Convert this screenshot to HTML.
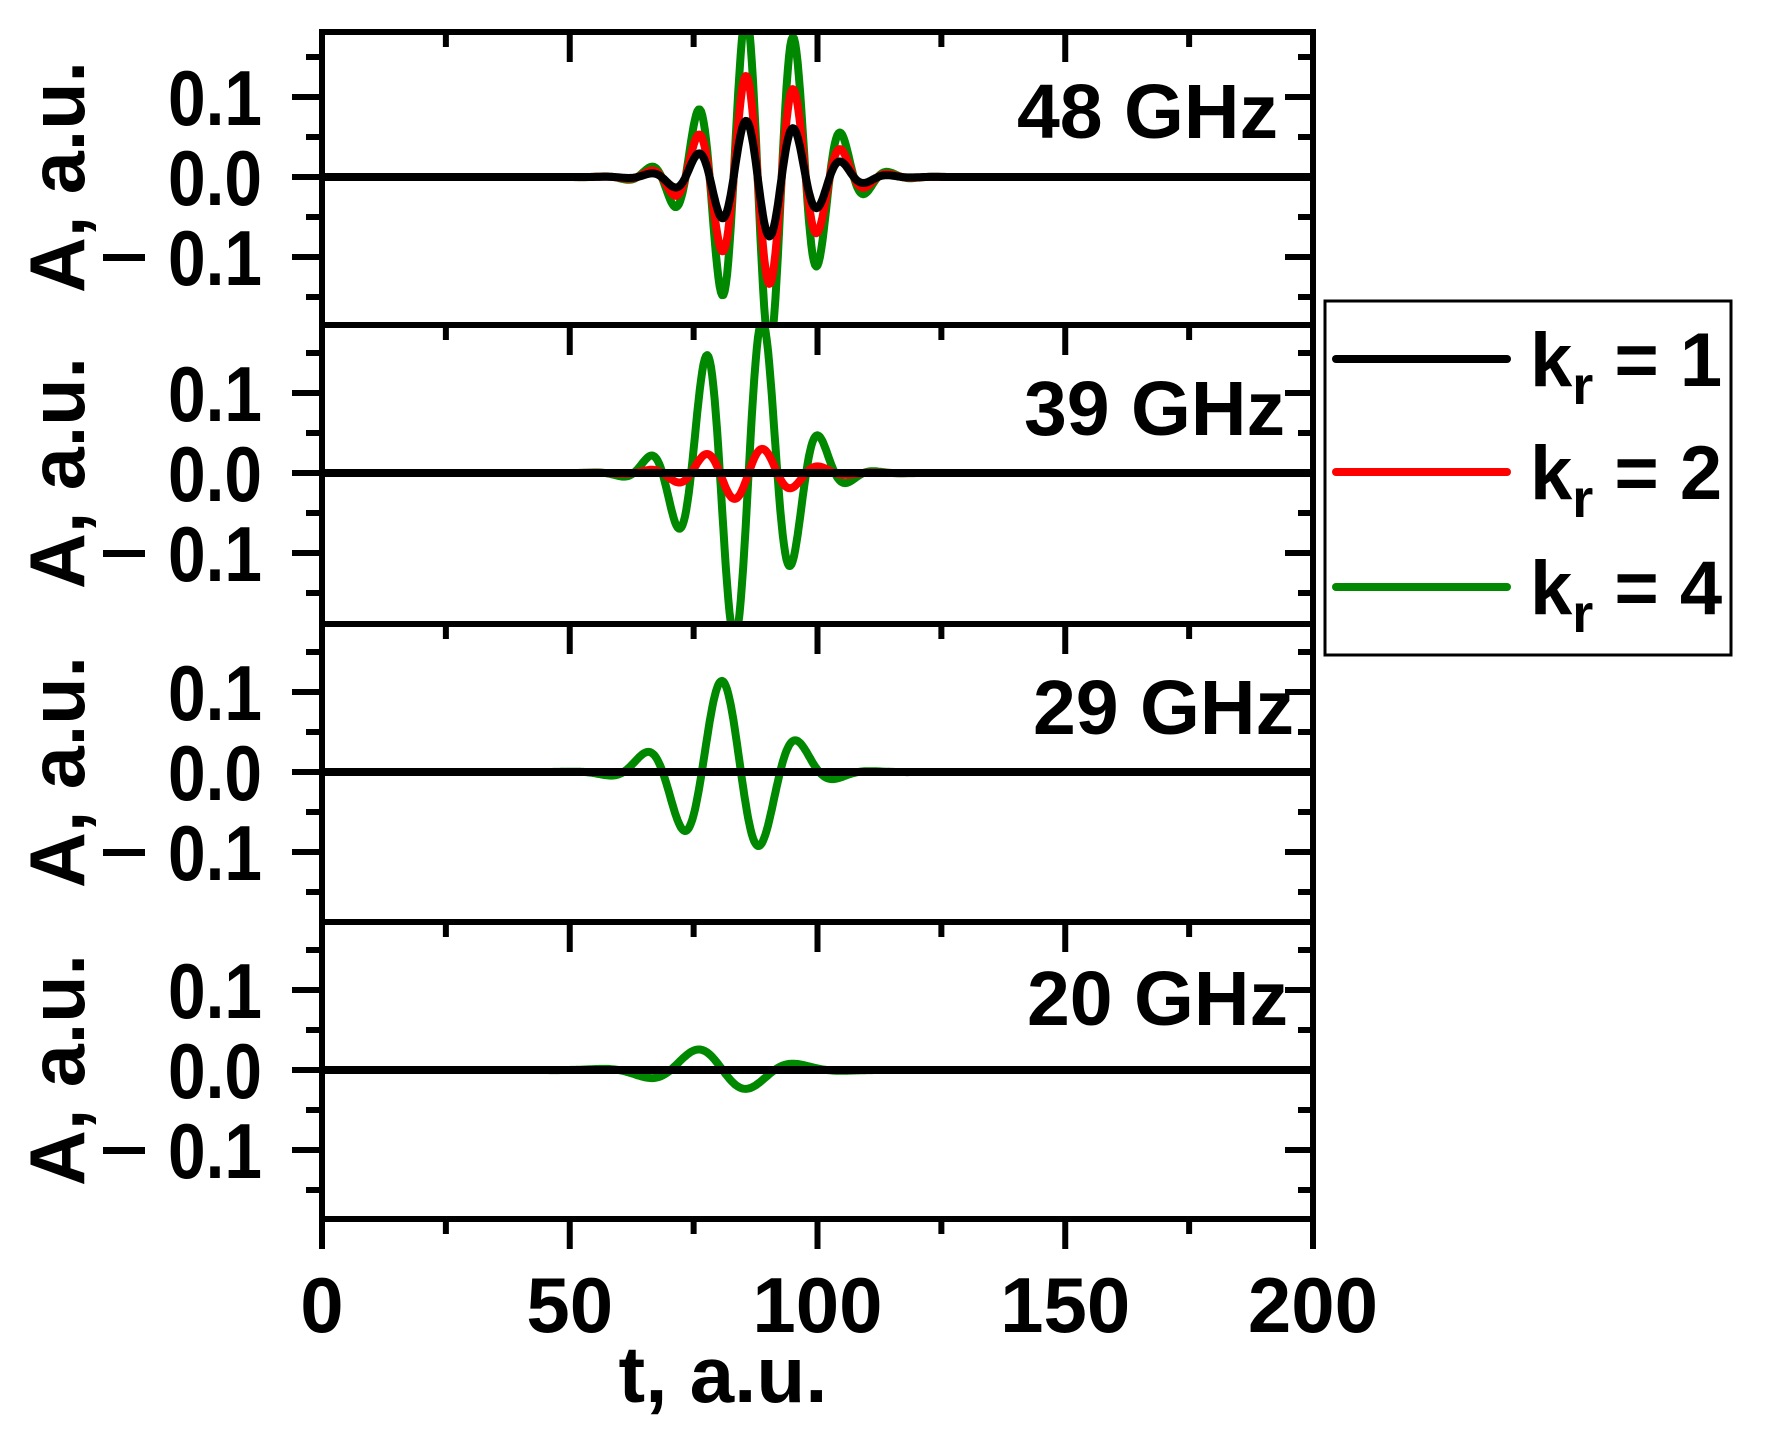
<!DOCTYPE html>
<html><head><meta charset="utf-8"><style>
html,body{margin:0;padding:0;background:#fff}
svg{display:block}
text{font-family:"Liberation Sans",Arial,sans-serif;font-weight:bold;fill:#000}
</style></head><body>
<svg id="s" width="1779" height="1441" viewBox="0 0 1779 1441" xmlns="http://www.w3.org/2000/svg">
<defs>
<clipPath id="c0"><rect x="322" y="32" width="991" height="293"/></clipPath>
<clipPath id="c1"><rect x="322" y="325" width="991" height="299"/></clipPath>
<clipPath id="c2"><rect x="322" y="624" width="991" height="298"/></clipPath>
<clipPath id="c3"><rect x="322" y="922" width="991" height="297"/></clipPath>
</defs>
<g id="curves"></g>
<g id="axes" stroke="#000" stroke-width="6" fill="none"></g>
<g id="labels"></g>
<!-- legend -->
<rect x="1325" y="301" width="406" height="354" fill="#fff" stroke="#000" stroke-width="3"/>
<line x1="1336" y1="359" x2="1507" y2="359" stroke="#000" stroke-width="8" stroke-linecap="round"/>
<line x1="1336" y1="472" x2="1507" y2="472" stroke="#f00" stroke-width="8" stroke-linecap="round"/>
<line x1="1336" y1="587" x2="1507" y2="587" stroke="#080" stroke-width="8" stroke-linecap="round"/>
<text x="1530" y="386" font-size="76">k<tspan font-size="54" dy="18">r</tspan><tspan dy="-18"> = 1</tspan></text>
<text x="1530" y="499" font-size="76">k<tspan font-size="54" dy="18">r</tspan><tspan dy="-18"> = 2</tspan></text>
<text x="1530" y="614" font-size="76">k<tspan font-size="54" dy="18">r</tspan><tspan dy="-18"> = 4</tspan></text>
<text x="723" y="1402" font-size="80" text-anchor="middle">t, a.u.</text>
</svg>
<script>
(function(){
var NS="http://www.w3.org/2000/svg";
var zeros=[177,473,772,1070];
var X=function(t){return 322+t*4.955;};
var S=800;
function el(tag,attrs,parent,txt){var e=document.createElementNS(NS,tag);for(var k in attrs)e.setAttribute(k,attrs[k]);if(txt!==undefined)e.textContent=txt;parent.appendChild(e);return e;}
var curves=document.getElementById('curves'),axes=document.getElementById('axes'),labels=document.getElementById('labels');
function wave(A0,tc,w,tp,P){return function(t){return A0*Math.exp(-Math.pow((t-tc)/w,2))*Math.cos(2*Math.PI*(t-tp)/P);};}
function path(f,z){var d="";for(var t=0;t<=200;t+=0.25){var y=z-f(t)*S;d+=(t?"L":"M")+X(t).toFixed(1)+","+y.toFixed(1);}return d;}
var panels=[
 [[wave(0.215,89,13.5,85.5,9.7),"#080"],[wave(0.135,89,13.5,85.5,9.7),"#f00"],[wave(0.075,89,13.5,85.5,9.7),"#000"]],
 [[wave(0.21,85,12.5,89,11.6),"#080"],[wave(0.033,85,13,89,11.6),"#f00"],[function(){return 0;},"#000"]],
 [[wave(0.115,82,13.5,80.6,15.8),"#080"],[function(){return 0;},"#000"]],
 [[wave(0.028,80,14,75.6,21),"#080"],[function(){return 0;},"#000"]]
];
var names=["48 GHz","39 GHz","29 GHz","20 GHz"], gx=[1278,1285,1294,1288], gy=[138,435,734,1025];
for(var i=0;i<4;i++){
 var g=el('g',{'clip-path':'url(#c'+i+')'},curves);
 panels[i].forEach(function(c){el('path',{d:path(c[0],zeros[i]),stroke:c[1],'stroke-width':8,fill:'none','stroke-linejoin':'round'},g);});
 var z=zeros[i];
 [-0.15,-0.1,-0.05,0,0.05,0.1,0.15].forEach(function(v){
  var y=z-v*S, maj=Math.abs(Math.round(v*100))%10==0;
  el('line',{x1:322-(maj?30:16),y1:y,x2:322,y2:y},axes);
  el('line',{x1:1313,y1:y,x2:1313-(maj?28:15),y2:y},axes);
 });
 el('text',{x:262,y:z-80+28,'font-size':78,'text-anchor':'end',textLength:94,lengthAdjust:'spacingAndGlyphs'},labels,"0.1");
 el('text',{x:262,y:z+28,'font-size':78,'text-anchor':'end',textLength:94,lengthAdjust:'spacingAndGlyphs'},labels,"0.0");
 el('text',{x:262,y:z+80+28,'font-size':78,'text-anchor':'end',textLength:94,lengthAdjust:'spacingAndGlyphs'},labels,"0.1");
 el('rect',{x:103,y:z+80-3,width:42,height:7,fill:'#000'},labels);
 el('text',{x:0,y:0,'font-size':78,'text-anchor':'middle',textLength:232,lengthAdjust:'spacingAndGlyphs',transform:'translate(84,'+z+') rotate(-90)'},labels,"A, a.u.");
 el('text',{x:gx[i],y:gy[i],'font-size':77,'text-anchor':'end'},labels,names[i]);
}
[32,325,624,922,1219].forEach(function(y){
 el('line',{x1:319,y1:y,x2:1316,y2:y},axes);
 for(var t=0;t<=200;t+=25){var maj=t%50==0;var x=X(t);el('line',{x1:x,y1:y,x2:x,y2:y+(maj?30:15)},axes);}
});
el('line',{x1:322,y1:29,x2:322,y2:1222},axes);
el('line',{x1:1313,y1:29,x2:1313,y2:1222},axes);
[0,50,100,150,200].forEach(function(t){el('text',{x:X(t),y:1332,'font-size':78,'text-anchor':'middle'},labels,String(t));});
})();
</script>
</body></html>
